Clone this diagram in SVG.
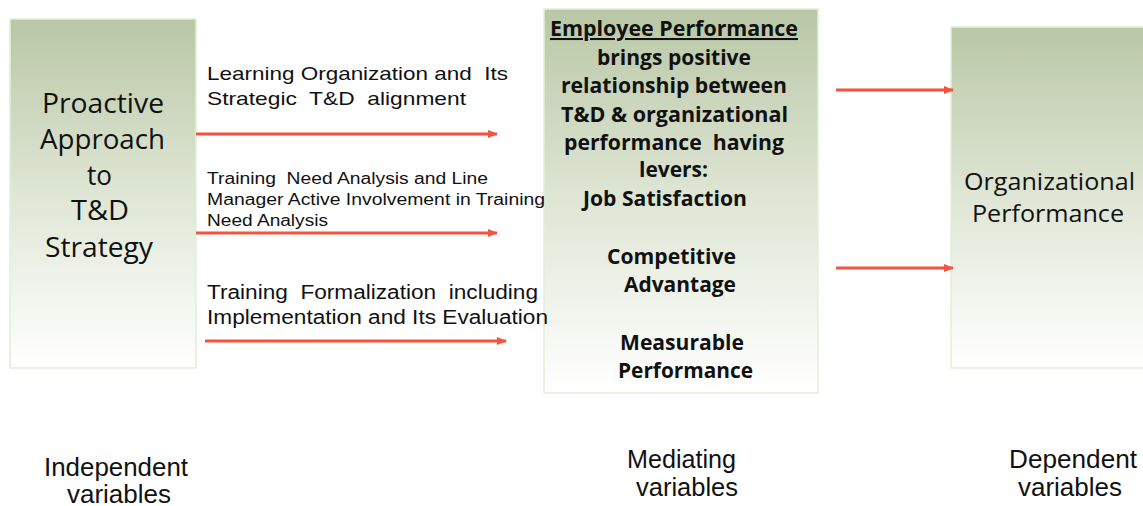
<svg xmlns="http://www.w3.org/2000/svg" width="1143" height="506" viewBox="0 0 1143 506">
<style>
.box{fill:url(#g);stroke:#e4eed8;stroke-width:1.5}
.nl{font-family:"Open Sans","Liberation Sans",sans-serif;fill:#111}
.mid{font-family:"Open Sans","Liberation Sans",sans-serif;font-weight:bold;font-size:20.5px;fill:#111}
.lab{font-family:"Liberation Sans",Arial,sans-serif;fill:#111;white-space:pre}
.cap{font-family:"Liberation Sans",Arial,sans-serif;font-size:25px;fill:#111}
.arr{stroke:#f5533e;stroke-width:3;fill:none;marker-end:url(#ah)}
</style>
<defs>
<linearGradient id="g" x1="0" y1="0" x2="0" y2="1">
<stop offset="0" stop-color="#b9c7a5"/>
<stop offset="0.5" stop-color="#dfe6d5"/>
<stop offset="1" stop-color="#ffffff"/>
</linearGradient>
<marker id="ah" markerWidth="10" markerHeight="8" refX="9" refY="4" orient="auto" markerUnits="userSpaceOnUse">
<path d="M0,0 L10,4 L0,8 Z" fill="#f5533e"/>
</marker>
</defs>
<rect width="1143" height="506" fill="#fff"/>
<g id="independent">
<rect class="box" x="10" y="19" width="186" height="349"/>
<text class="nl" font-size="27" lengthAdjust="spacingAndGlyphs">
<tspan x="42" y="113" textLength="122" lengthAdjust="spacingAndGlyphs">Proactive</tspan>
<tspan x="40" y="149" textLength="125" lengthAdjust="spacingAndGlyphs">Approach</tspan>
<tspan x="87" y="185" textLength="25" lengthAdjust="spacingAndGlyphs">to</tspan>
<tspan x="71" y="220" textLength="58" lengthAdjust="spacingAndGlyphs">T&amp;D</tspan>
<tspan x="45" y="257" textLength="108" lengthAdjust="spacingAndGlyphs">Strategy</tspan>
</text>
</g>
<g id="mediating">
<rect class="box" x="544" y="9" width="274" height="384"/>
<text class="mid">
<tspan x="550" y="36" textLength="248" lengthAdjust="spacingAndGlyphs" text-decoration="underline">Employee Performance</tspan>
<tspan x="597" y="65" textLength="154" lengthAdjust="spacingAndGlyphs">brings positive</tspan>
<tspan x="561" y="93" textLength="226" lengthAdjust="spacingAndGlyphs">relationship between</tspan>
<tspan x="561" y="122" textLength="227" lengthAdjust="spacingAndGlyphs">T&amp;D &amp; organizational</tspan>
<tspan x="564" y="150" textLength="220" lengthAdjust="spacingAndGlyphs" xml:space="preserve">performance  having</tspan>
<tspan x="639" y="177" textLength="69" lengthAdjust="spacingAndGlyphs">levers:</tspan>
<tspan x="583" y="206" textLength="164" lengthAdjust="spacingAndGlyphs">Job Satisfaction</tspan>
<tspan x="607" y="264" textLength="129" lengthAdjust="spacingAndGlyphs">Competitive</tspan>
<tspan x="624" y="292" textLength="112" lengthAdjust="spacingAndGlyphs">Advantage</tspan>
<tspan x="620" y="350" textLength="124" lengthAdjust="spacingAndGlyphs">Measurable</tspan>
<tspan x="618" y="378" textLength="135" lengthAdjust="spacingAndGlyphs">Performance</tspan>
</text>
</g>
<g id="dependent">
<rect class="box" x="951" y="27" width="200" height="341"/>
<text class="nl" font-size="23">
<tspan x="964" y="190" textLength="171" lengthAdjust="spacingAndGlyphs">Organizational</tspan>
<tspan x="972" y="222" textLength="152" lengthAdjust="spacingAndGlyphs">Performance</tspan>
</text>
</g>
<g id="connectors">
<line class="arr" x1="196" y1="134" x2="497" y2="134"/>
<line class="arr" x1="196" y1="233" x2="497" y2="233"/>
<line class="arr" x1="205" y1="341" x2="506" y2="341"/>
<line class="arr" x1="836" y1="90" x2="953" y2="90"/>
<line class="arr" x1="836" y1="268" x2="953" y2="268"/>
</g>
<g id="labels">
<text class="lab" font-size="19" xml:space="preserve"><tspan x="207" y="80" textLength="301" lengthAdjust="spacingAndGlyphs">Learning Organization and  Its</tspan><tspan x="207" y="105" textLength="259" lengthAdjust="spacingAndGlyphs">Strategic  T&amp;D  alignment</tspan></text>
<text class="lab" font-size="16" xml:space="preserve"><tspan x="207" y="184" textLength="281" lengthAdjust="spacingAndGlyphs">Training  Need Analysis and Line</tspan><tspan x="207" y="205" textLength="338" lengthAdjust="spacingAndGlyphs">Manager Active Involvement in Training</tspan><tspan x="207" y="226" textLength="121" lengthAdjust="spacingAndGlyphs">Need Analysis</tspan></text>
<text class="lab" font-size="19.5" xml:space="preserve"><tspan x="207" y="299" textLength="331" lengthAdjust="spacingAndGlyphs">Training  Formalization  including</tspan><tspan x="207" y="324" textLength="341" lengthAdjust="spacingAndGlyphs">Implementation and Its Evaluation</tspan></text>
</g>
<g id="captions">
<text class="cap"><tspan x="44" y="476" textLength="144" lengthAdjust="spacingAndGlyphs">Independent</tspan><tspan x="67" y="503" textLength="104" lengthAdjust="spacingAndGlyphs">variables</tspan></text>
<text class="cap"><tspan x="627" y="468" textLength="109" lengthAdjust="spacingAndGlyphs">Mediating</tspan><tspan x="636" y="496" textLength="102" lengthAdjust="spacingAndGlyphs">variables</tspan></text>
<text class="cap"><tspan x="1009" y="468" textLength="128" lengthAdjust="spacingAndGlyphs">Dependent</tspan><tspan x="1018" y="496" textLength="104" lengthAdjust="spacingAndGlyphs">variables</tspan></text>
</g>
</svg>
